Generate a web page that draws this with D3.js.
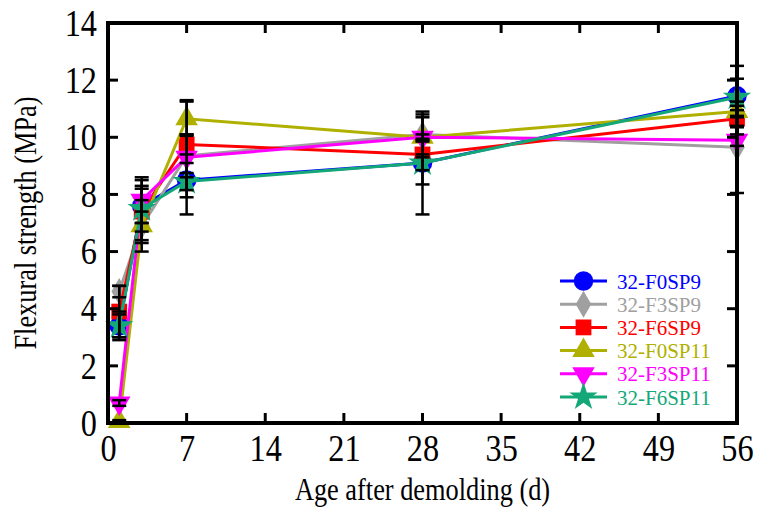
<!DOCTYPE html>
<html>
<head>
<meta charset="utf-8">
<script src="https://cdn.jsdelivr.net/npm/d3@7"></script>
<style>
  body { margin: 0; background: #fff; }
  svg text { font-family: "Liberation Serif", "Times New Roman", Times, serif; }
</style>
</head>
<body>
<div id="chart"></div>
<script>
// ── DATA ──────────────────────────────────────────────────────────────
const ages = [1, 3, 7, 28, 56];
const seriesNames = ["32-F0SP9", "32-F3SP9", "32-F6SP9", "32-F0SP11", "32-F3SP11", "32-F6SP11"];
const seriesColors = ["#0000ff", "#a0a0a0", "#ff0000", "#b0b000", "#ff00ff", "#14a878"];
const seriesSymbols = ["circle", "diamond", "square", "triangle", "triangleDown", "star"];

const strengthF0SP9  = [3.4, 7.6, 8.5, 9.1, 11.45];
const strengthF3SP9  = [4.6, 6.9, 9.35, 10.1, 9.65];
const strengthF6SP9  = [3.9, 7.4, 9.75, 9.4, 10.65];
const strengthF0SP11 = [0.05, 6.9, 10.65, 10.0, 10.9];
const strengthF3SP11 = [0.7, 7.8, 9.3, 10.0, 9.9];
const strengthF6SP11 = [3.4, 7.5, 8.45, 9.1, 11.4];

const errF0SP9  = [0.5, 0.6, 0.6, 1.8, 1.05];
const errF3SP9  = [0.2, 0.9, 0.75, 0.7, 1.6];
const errF6SP9  = [0.9, 1.1, 0.35, 0.55, 0.3];
const errF0SP11 = [0.05, 0.5, 0.6, 0.7, 0.2];
const errF3SP11 = [0.1, 0.8, 2.0, 0.1, 0.2];
const errF6SP11 = [0.4, 0.8, 0.3, 0.75, 0.65];

const allValues = [strengthF0SP9, strengthF3SP9, strengthF6SP9, strengthF0SP11, strengthF3SP11, strengthF6SP11];
const allErrors = [errF0SP9, errF3SP9, errF6SP9, errF0SP11, errF3SP11, errF6SP11];

const xTicks = [0, 7, 14, 21, 28, 35, 42, 49, 56];
const yTicks = [0, 2, 4, 6, 8, 10, 12, 14];

// ── SETUP ─────────────────────────────────────────────────────────────
const width = 758, height = 515;
const m = { left: 108, right: 21, top: 23, bottom: 92 };
const FONT = "'Liberation Serif', 'Times New Roman', Times, serif";
const SQUEEZE = 0.85;   // the original lettering is narrow and tall

const svg = d3.select("#chart").append("svg")
    .attr("width", width).attr("height", height);

const x = d3.scaleLinear().domain([0, 56]).range([m.left, width - m.right]);
const y = d3.scaleLinear().domain([0, 14]).range([height - m.bottom, m.top]);

const symbolTypes = {
    circle: d3.symbolCircle, diamond: d3.symbolDiamond, square: d3.symbolSquare,
    triangle: d3.symbolTriangle, triangleDown: d3.symbolTriangle, star: d3.symbolStar
};
const symbolSizes = { circle: 300, diamond: 210, square: 250, triangle: 220, triangleDown: 220, star: 250 };

function drawSymbol(sel, kind, color, cx, cy) {
    sel.append("path")
        .attr("d", d3.symbol().type(symbolTypes[kind]).size(symbolSizes[kind])())
        .attr("transform", `translate(${cx},${cy})` + (kind === "triangleDown" ? " rotate(180)" : ""))
        .attr("fill", color);
}

// ── SERIES ────────────────────────────────────────────────────────────
const line = d3.line().x((d, i) => x(ages[i])).y(d => y(d));
const plot = svg.append("g");

seriesNames.forEach((name, s) => {
    const g = plot.append("g");
    g.append("path")
        .datum(allValues[s])
        .attr("d", line)
        .attr("fill", "none")
        .attr("stroke", seriesColors[s])
        .attr("stroke-width", 3);
    allValues[s].forEach((v, i) => drawSymbol(g, seriesSymbols[s], seriesColors[s], x(ages[i]), y(v)));
});

// error bars on top of markers
seriesNames.forEach((name, s) => {
    const g = plot.append("g").attr("stroke", "#000").attr("stroke-width", 2.5);
    allValues[s].forEach((v, i) => {
        const e = allErrors[s][i], cx = x(ages[i]);
        g.append("line").attr("x1", cx).attr("x2", cx).attr("y1", y(v - e)).attr("y2", y(v + e));
        [v - e, v + e].forEach(c => g.append("line")
            .attr("x1", cx - 7).attr("x2", cx + 7).attr("y1", y(c)).attr("y2", y(c)));
    });
});

// ── AXES / FRAME ──────────────────────────────────────────────────────
const axisG = svg.append("g");
const tickLen = 10;

const xAxis = axisG.append("g")
    .attr("transform", `translate(0,${y(0)})`)
    .call(d3.axisBottom(x).tickValues(xTicks).tickSize(0).tickPadding(11));
const yAxis = axisG.append("g")
    .attr("transform", `translate(${x(0)},0)`)
    .call(d3.axisLeft(y).tickValues(yTicks).tickSize(0).tickPadding(13));
[xAxis, yAxis].forEach(a => {
    a.attr("font-family", FONT);
    a.select(".domain").remove();
    a.selectAll("text").attr("font-size", 38).attr("fill", "#000")
        .attr("transform", `scale(${SQUEEZE},1)`);
});

const ticksG = axisG.append("g").attr("stroke", "#000").attr("stroke-width", 3);
xTicks.slice(1, -1).forEach(t => {
    ticksG.append("line").attr("x1", x(t)).attr("x2", x(t)).attr("y1", y(0)).attr("y2", y(0) - tickLen);
    ticksG.append("line").attr("x1", x(t)).attr("x2", x(t)).attr("y1", y(14)).attr("y2", y(14) + tickLen);
});
yTicks.slice(1, -1).forEach(t => {
    ticksG.append("line").attr("x1", x(0)).attr("x2", x(0) + tickLen).attr("y1", y(t)).attr("y2", y(t));
    ticksG.append("line").attr("x1", x(56)).attr("x2", x(56) - tickLen).attr("y1", y(t)).attr("y2", y(t));
});

axisG.append("rect")
    .attr("x", x(0)).attr("y", y(14))
    .attr("width", x(56) - x(0)).attr("height", y(0) - y(14))
    .attr("fill", "none").attr("stroke", "#000").attr("stroke-width", 4);

svg.append("text")
    .attr("transform", `translate(${(x(0) + x(56)) / 2},500) scale(${SQUEEZE},1)`)
    .attr("text-anchor", "middle").attr("font-size", 31).attr("font-family", FONT)
    .text("Age after demolding (d)");

svg.append("text")
    .attr("transform", `translate(36,${(y(0) + y(14)) / 2}) rotate(-90) scale(${SQUEEZE},1)`)
    .attr("text-anchor", "middle").attr("font-size", 31).attr("font-family", FONT)
    .text("Flexural strength (MPa)");

// ── LEGEND ────────────────────────────────────────────────────────────
const legend = svg.append("g").attr("transform", "translate(560,281)");
seriesNames.forEach((name, s) => {
    const row = legend.append("g").attr("transform", `translate(0,${s * 23.2})`);
    row.append("line").attr("x1", 0).attr("x2", 47).attr("y1", 0).attr("y2", 0)
        .attr("stroke", seriesColors[s]).attr("stroke-width", 3);
    drawSymbol(row, seriesSymbols[s], seriesColors[s], 23.5, 0);
    row.append("text").attr("x", 57).attr("y", 7.5).attr("font-family", FONT)
        .attr("font-size", 21).attr("fill", seriesColors[s]).text(name);
});
</script>
</body>
</html>
